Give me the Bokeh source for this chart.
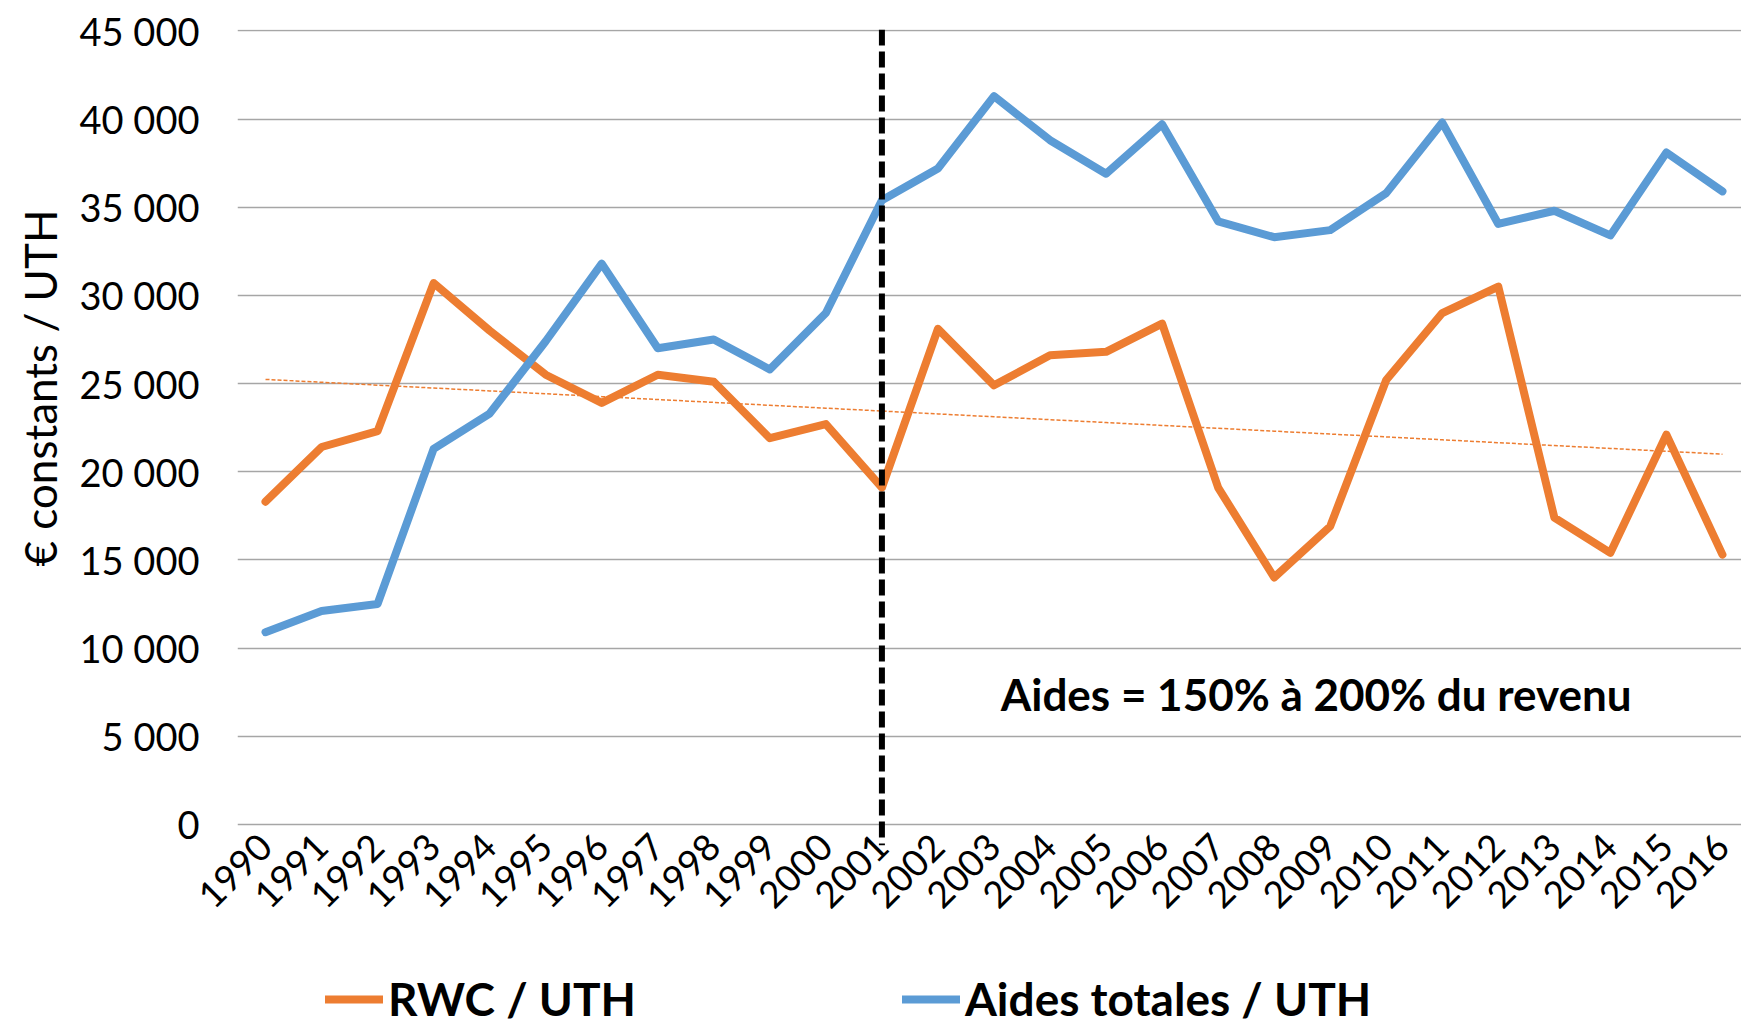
import math
import numpy as np
from bokeh.plotting import figure
from bokeh.layouts import column
from bokeh.models import FixedTicker, Span, Label, Legend, LegendItem, Title
from bokeh.embed import file_html
from bokeh.resources import INLINE

# ---------------- data ----------------
years = list(range(1990, 2017))
rwc_uth = [18300, 21400, 22300, 30700, 28000, 25500, 23900, 25500, 25100, 21900,
           22700, 19100, 28100, 24900, 26600, 26800, 28400, 19100, 14000, 16900,
           25200, 29000, 30500, 17400, 15400, 22100, 15300]
aides_uth = [10900, 12100, 12500, 21300, 23300, 27400, 31800, 27000, 27500, 25800,
             29000, 35400, 37200, 41300, 38800, 36900, 39700, 34200, 33300, 33700,
             35800, 39800, 34050, 34800, 33400, 38100, 35900]
series_names = ["RWC / UTH", "Aides totales / UTH"]
y_ticks = [0, 5000, 10000, 15000, 20000, 25000, 30000, 35000, 40000, 45000]
y_tick_labels = ["0", "5 000", "10 000", "15 000", "20 000", "25 000",
                 "30 000", "35 000", "40 000", "45 000"]
reform_year = 2001
annotation_text = "Aides = 150% à 200% du revenu"
y_title = "€ constants / UTH"

ORANGE = "#ED7D31"
BLUE = "#5B9BD5"
FONT = "Lato"
LINE_W = 8

# ---------------- main chart ----------------
p = figure(width=1741, height=950, output_backend="svg", toolbar_location=None,
           x_range=(1989.5, 2016.34), y_range=(-1200, 45080),
           min_border_left=237, min_border_right=0, min_border_top=29,
           min_border_bottom=105, outline_line_color=None)

p.xgrid.grid_line_color = None
p.ygrid.grid_line_color = "#A6A6A6"
p.ygrid.grid_line_width = 1.5

p.yaxis.ticker = FixedTicker(ticks=y_ticks)
p.yaxis.major_label_overrides = {t: l for t, l in zip(y_ticks, y_tick_labels)}
p.xaxis.ticker = FixedTicker(ticks=years)
p.xaxis.major_label_overrides = {y: str(y) for y in years}
for ax in (p.xaxis, p.yaxis):
    ax.axis_line_color = None
    ax.major_tick_line_color = None
    ax.minor_tick_line_color = None
    ax.major_label_text_color = "#000000"
    ax.major_label_text_font = FONT
p.yaxis.major_label_text_font_size = "38px"
p.yaxis.major_label_standoff = 32
p.xaxis.major_label_text_font_size = "37px"
p.xaxis.major_label_orientation = math.pi / 4
p.xaxis.major_label_standoff = -11

# trend line of RWC (linear regression)
coef = np.polyfit(years, rwc_uth, 1)
trend = [coef[0] * y + coef[1] for y in years]
p.line(years, trend, line_color=ORANGE, line_width=1.5, line_dash="4 2")

p.line(years, rwc_uth, line_color=ORANGE, line_width=LINE_W,
       line_join="round", line_cap="round")
p.line(years, aides_uth, line_color=BLUE, line_width=LINE_W,
       line_join="round", line_cap="round")

p.add_layout(Span(location=reform_year, dimension="height", line_color="black",
                  line_width=6, line_dash="16 6"))

p.add_layout(Label(x=2003.12, y=7400, text=annotation_text, text_font=FONT,
                   text_font_style="bold", text_font_size="44px",
                   text_color="#000000", text_baseline="middle", text_align="left"))

p.add_layout(Title(text=y_title, align="left", offset=279, standoff=18,
                   vertical_align="top",
                   text_font=FONT, text_font_size="44px", text_font_style="normal",
                   text_color="#000000"), "left")

# ---------------- legend strip (series drawn outside its view, only the legend shows) ----
pl = figure(width=1741, height=74, output_backend="svg", toolbar_location=None,
            x_range=(0, 1), y_range=(0, 1), min_border=0,
            x_axis_location=None, y_axis_location=None, outline_line_color=None)
pl.grid.visible = False
lr1 = pl.line(years, rwc_uth, line_color=ORANGE, line_width=LINE_W, line_cap="round")
lr2 = pl.line(years, aides_uth, line_color=BLUE, line_width=LINE_W, line_cap="round")
legend = Legend(items=[LegendItem(label=series_names[0], renderers=[lr1]),
                       LegendItem(label=series_names[1], renderers=[lr2])],
                orientation="horizontal", location=(88, -2),
                glyph_width=58, glyph_height=40, label_standoff=5, spacing=266,
                padding=0, margin=0, border_line_alpha=0, background_fill_alpha=0,
                label_text_font=FONT, label_text_font_style="bold",
                label_text_font_size="46px", label_text_color="#000000")
pl.add_layout(legend, "center")

layout = column(p, pl, spacing=0)
open("out.html", "w").write(file_html(layout, INLINE))
